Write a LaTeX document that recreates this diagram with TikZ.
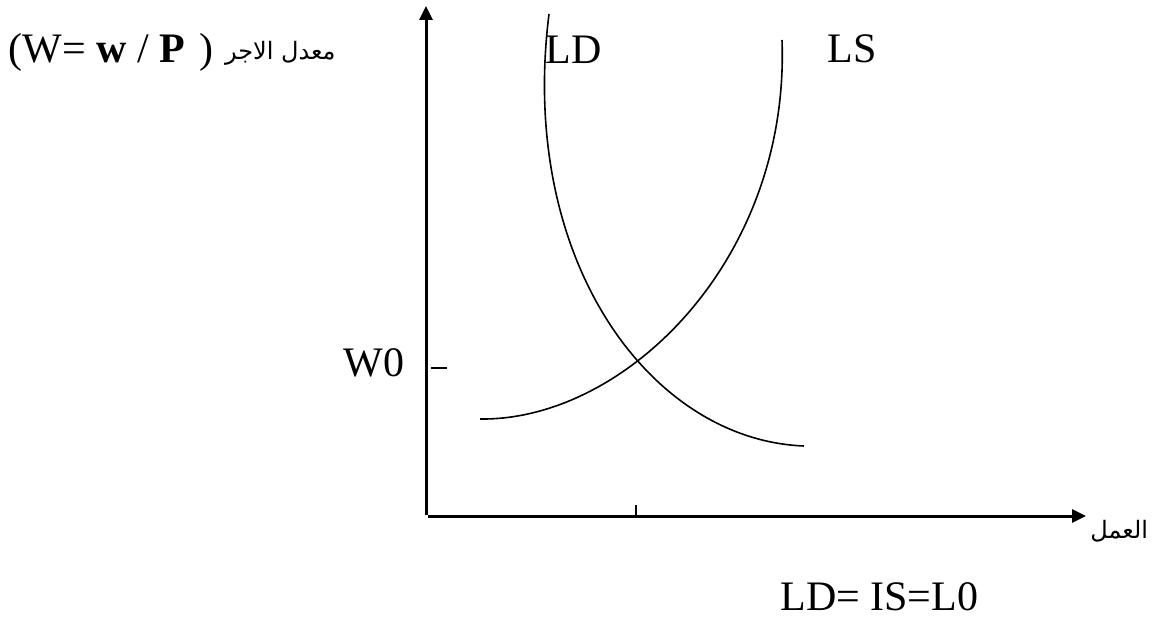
\documentclass[tikz,border=0pt]{standalone}
\usepackage{fontspec}
\setmainfont{Liberation Serif}
\newfontfamily\arabicfont[Script=Arabic]{DejaVu Sans}
\TeXXeTstate=1
\usetikzlibrary{positioning,arrows.meta}

\begin{document}
\begin{tikzpicture}[x=0.5pt,y=-0.5pt,
  >={Triangle[length=7pt,width=6.5pt]},
  axis/.style={line width=1.5pt},
  curve/.style={line width=0.8pt},
  tickmark/.style={line width=0.9pt},
  lbl/.style={font=\fontsize{21}{25}\selectfont,inner sep=0pt},
  arlbl/.style={font=\arabicfont\fontsize{12}{16}\selectfont,inner sep=0pt}]

\useasboundingbox (0,0) rectangle (1155,619);

% ============ Axes ============
\coordinate (orig) at (426,515);
\coordinate (ytop) at (426,6);
\coordinate (xstart) at (428,516);
\coordinate (xend) at (1086,516);
\draw[axis,->] (orig) -- (ytop);
\draw[axis,->] (xstart) -- (xend);

% ticks
\coordinate (wtickA) at (431,368);
\coordinate (wtickB) at (447,368);
\draw[tickmark] (wtickA) -- (wtickB);
\coordinate (ltickA) at (636,505);
\coordinate (ltickB) at (636,515);
\draw[line width=1.4pt] (ltickA) -- (ltickB);

% ============ Curves ============
% LD: demand
\coordinate (ldtop) at (549,14);
\coordinate (ldend) at (804,446);
\draw[curve] (ldtop) .. controls (518,260) and (650,440) .. (ldend);
% LS: supply
\coordinate (lsstart) at (480,419);
\coordinate (lstop) at (782,40);
\draw[curve] (lsstart) .. controls (625,421) and (790,260) .. (lstop);

% ============ Labels ============
\node[lbl,anchor=base west] (wage) at (8,63)
  {(W= \textbf{w} / \textbf{P}\hspace{0.35em})};
\node[arlbl,anchor=base east] (wagear) at (336,60)
  {\beginR معدل الاجر\endR};
\node[lbl,anchor=base west] (ldlab) at (545,64) {LD};
\node[lbl,anchor=base west] (lslab) at (827,63) {LS};
\node[lbl,anchor=base east] (wzero) at (405,377) {W0};
\node[arlbl,anchor=base west] (labour) at (1090,538)
  {\beginR العمل\endR};
\node[lbl,anchor=base west] (eqlab) at (780,610) {LD= IS=L0};

\end{tikzpicture}
\end{document}
